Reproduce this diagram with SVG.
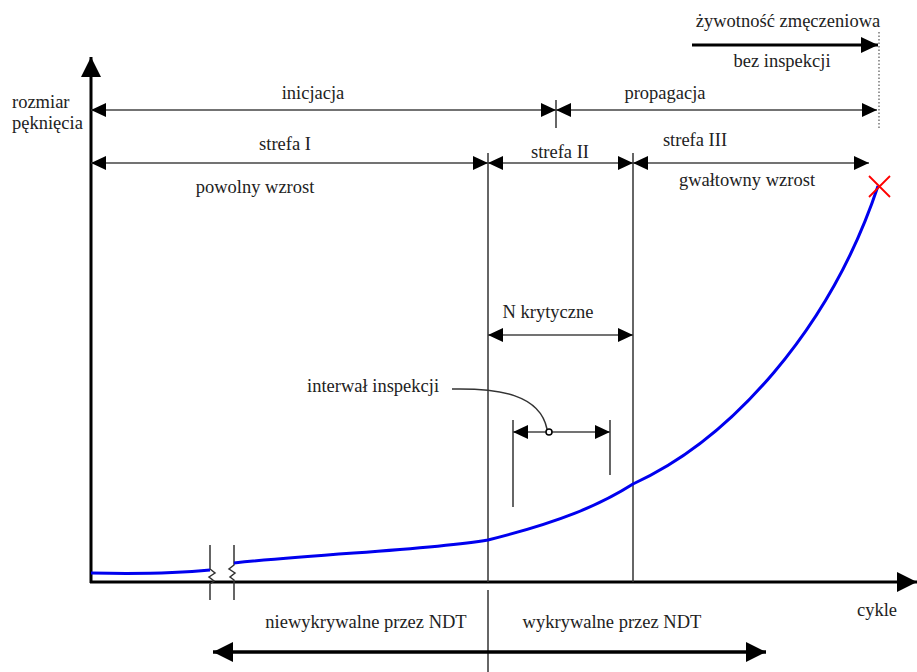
<svg xmlns="http://www.w3.org/2000/svg" width="917" height="672" viewBox="0 0 917 672">
<style>
text{font-family:"Liberation Serif","Times New Roman",serif;font-size:18.5px;fill:#222}
.c{text-anchor:middle}
.thin{stroke:#333;stroke-width:1.5;fill:none}
.dim{stroke:#444;stroke-width:1.5;fill:none;marker-start:url(#ah);marker-end:url(#ah)}
.thick{stroke:#000;stroke-width:3;fill:none}
</style>
<defs>
<marker id="ah" viewBox="0 0 15 14" refX="15" refY="7" markerWidth="15" markerHeight="14" markerUnits="userSpaceOnUse" orient="auto-start-reverse"><path d="M0,0 L15,7 L0,14 z" fill="#000"/></marker>
<marker id="big" viewBox="0 0 20 20" refX="20" refY="10" markerWidth="20" markerHeight="20" markerUnits="userSpaceOnUse" orient="auto-start-reverse"><path d="M0,0 L20,10 L0,20 z" fill="#000"/></marker>
<marker id="mid" viewBox="0 0 17 16" refX="17" refY="8" markerWidth="17" markerHeight="16" markerUnits="userSpaceOnUse" orient="auto-start-reverse"><path d="M0,0 L17,8 L0,16 z" fill="#000"/></marker>
</defs>

<g id="axes">
<line class="thick" x1="91" y1="583" x2="91" y2="57" marker-end="url(#big)"/>
<line class="thick" x1="90" y1="582" x2="917" y2="582" marker-end="url(#big)"/>
<text x="12" y="108">rozmiar</text>
<text x="12" y="129">pęknięcia</text>
<text class="c" x="877" y="616">cykle</text>
</g>

<g id="connectors">
<line class="thin" x1="488" y1="153" x2="488" y2="582"/>
<line class="thin" x1="488" y1="590" x2="488" y2="672"/>
<line class="thin" x1="633" y1="153" x2="633" y2="582"/>
<line class="thin" x1="556" y1="100" x2="556" y2="128"/>
<line x1="879" y1="32" x2="879" y2="128" stroke="#555" stroke-width="1.2" stroke-dasharray="1.5,2"/>
<line class="dim" x1="91" y1="110" x2="556" y2="110"/>
<line class="dim" x1="556" y1="110" x2="877" y2="110"/>
<line class="dim" x1="91" y1="163" x2="488" y2="163"/>
<line class="dim" x1="488" y1="163" x2="633" y2="163"/>
<line class="dim" x1="633" y1="163" x2="869" y2="163"/>
<line x1="692" y1="45" x2="878" y2="45" stroke="#000" stroke-width="3" marker-end="url(#mid)"/>
<line class="dim" x1="488" y1="335" x2="633" y2="335"/>
<line class="thin" x1="513" y1="420" x2="513" y2="507"/>
<line class="thin" x1="610" y1="420" x2="610" y2="475"/>
<line class="dim" x1="513" y1="432" x2="610" y2="432"/>
<path class="thin" d="M452,389 C500,388 540,395 547,429" stroke-width="1.2"/>
<circle cx="549" cy="432" r="3" fill="#fff" stroke="#000" stroke-width="1.5"/>
<line x1="213" y1="652" x2="766" y2="652" stroke="#000" stroke-width="3.5" marker-start="url(#big)" marker-end="url(#big)"/>
<path class="thin" d="M210,545 V569 l5,4 l-6,4 l5,4 l-4,3 V600"/>
<path class="thin" d="M234,545 V565 l-5,4 l6,4 l-5,4 l4,3 V600"/>
</g>

<g id="curve">
<path d="M91,573 C140,574 180,573 210,570" stroke="#0000ee" stroke-width="3" fill="none"/>
<path d="M234,563 C330,553 430,550 488,540 C560,522 600,505 633,484 C730,440 830,330 878,186" stroke="#0000ee" stroke-width="3" fill="none"/>
<path d="M869,176 L890,197 M890,176 L869,197" stroke="#ff0000" stroke-width="1.8"/>
</g>

<g id="labels">
<text class="c" x="788" y="27">żywotność zmęczeniowa</text>
<text class="c" x="782" y="67">bez inspekcji</text>
<text class="c" x="313" y="99">inicjacja</text>
<text class="c" x="665" y="99">propagacja</text>
<text class="c" x="285" y="150">strefa I</text>
<text class="c" x="560" y="158">strefa II</text>
<text class="c" x="695" y="146">strefa III</text>
<text class="c" x="255" y="193">powolny wzrost</text>
<text class="c" x="747" y="186">gwałtowny wzrost</text>
<text class="c" x="548" y="318">N krytyczne</text>
<text x="307" y="392">interwał inspekcji</text>
<text class="c" x="366" y="628">niewykrywalne przez NDT</text>
<text class="c" x="612" y="628">wykrywalne przez NDT</text>
</g>
</svg>
